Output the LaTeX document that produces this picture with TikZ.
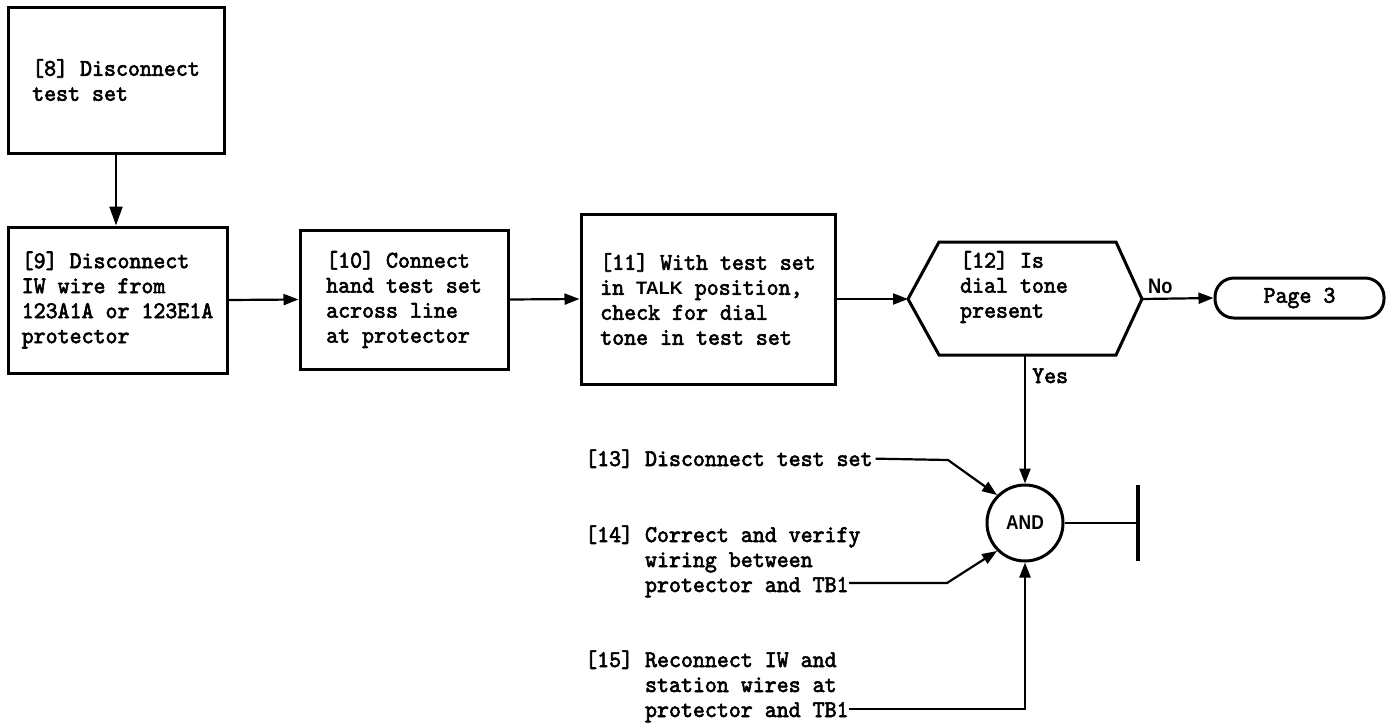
\documentclass[tikz,border=0pt]{standalone}
\usepackage{fontspec}
\usetikzlibrary{arrows.meta}
\newfontfamily\tw{lmmono10-regular.otf}[FakeBold=2.5,FakeStretch=0.95]
\newfontfamily\hv{Liberation Sans}
\newfontfamily\hvc{Liberation Sans}[FakeStretch=0.87]
\begin{document}
\begin{tikzpicture}[x=1pt,y=-1pt,
  twfont/.style={font=\tw\fontsize{24}{25}\selectfont},
  box/.style={draw, line width=3pt, inner sep=0pt, align=left, twfont},
  txt/.style={inner sep=0pt, align=left, twfont},
  conn/.style={line width=2.2pt},
  tip/.style={conn,-{Triangle[length=15pt,width=11pt]}},
  bigtip/.style={conn,-{Triangle[length=19pt,width=13pt]}},
  ]
\useasboundingbox (0,0) rectangle (1386,723);

% process boxes
\node[box, minimum width=216pt, minimum height=146pt] (b8) at (116,80) {[8] Disconnect\\test set};
\node[box, minimum width=219pt, minimum height=146pt] (b9) at (117.5,300) {[9] Disconnect\\IW wire from\\123A1A or 123E1A\\protector};
\node[box, minimum width=208pt, minimum height=139pt] (b10) at (404,299.5) {[10] Connect\\hand test set\\across line\\at protector};
\node[box, minimum width=254pt, minimum height=170pt] (b11) at (708,299) {[11] With test set\\in {\hv\bfseries\fontsize{18}{25}\selectfont TALK} position,\\check for dial\\tone in test set};

% decision hexagon
\coordinate (hL) at (908,299);
\coordinate (hR) at (1142,299);
\coordinate (hB) at (1025,355);
\draw[line width=3pt, line join=miter] (hL) -- (939,242) -- (1116,242) -- (hR) -- (1116,355) -- (939,355) -- cycle;
\node[txt] (h12) at (1014,287) {[12] Is\\dial tone\\present};

% terminal
\node[draw, line width=3pt, rounded corners=19pt, minimum width=169pt, minimum height=40pt, inner sep=0pt, twfont] (p3) at (1299.5,298) {Page 3};

\node[anchor=base west, inner sep=0pt, font=\hvc\bfseries\fontsize{21}{21}\selectfont] (no) at (1148,293) {No};
\node[txt, anchor=base west] (yes) at (1032,383) {Yes};

% AND junction
\node[draw, circle, line width=3pt, minimum size=76pt, inner sep=0pt, font=\hvc\bfseries\fontsize{20}{20}\selectfont] (and) at (1025,523) {AND};
\coordinate (tend) at (1138,523);

% side steps
\node[txt, anchor=base west] (t13) at (585,466) {[13] Disconnect test set};
\node[inner sep=0pt, anchor=base west, twfont] (t14) at (585,592) {\begin{tabular}[b]{@{}l@{}}[14] Correct and verify\\\phantom{[14] }wiring between\\\phantom{[14] }protector and TB1\end{tabular}};
\node[inner sep=0pt, anchor=base west, twfont] (t15) at (585,717) {\begin{tabular}[b]{@{}l@{}}[15] Reconnect IW and\\\phantom{[15] }station wires at\\\phantom{[15] }protector and TB1\end{tabular}};
\coordinate (k13) at (948,460);
\coordinate (k14) at (947,583);

% connectors
\draw[bigtip] (b8.south) -- (b8.south |- b9.north);
\draw[tip] (b9.east) -- (b10.west);
\draw[tip] (b10.east) -- (b11.west);
\draw[tip] (b11.east) -- (hL);
\draw[tip] (hR) -- (p3.west);
\draw[tip] (hB) -- (and.north);
\draw[tip] ([xshift=3pt]t13.east) -- (k13) -- (and.135);
\draw[tip] ([shift={(264pt,9pt)}]t14.base west) -- (k14) -- (and.225);
\draw[tip] ([shift={(264pt,8pt)}]t15.base west) -| (and.south);
\draw[conn] (and.east) -- (tend);
\draw[line width=4.5pt] ([yshift=38pt]tend) -- ([yshift=-38pt]tend);
\end{tikzpicture}
\end{document}
